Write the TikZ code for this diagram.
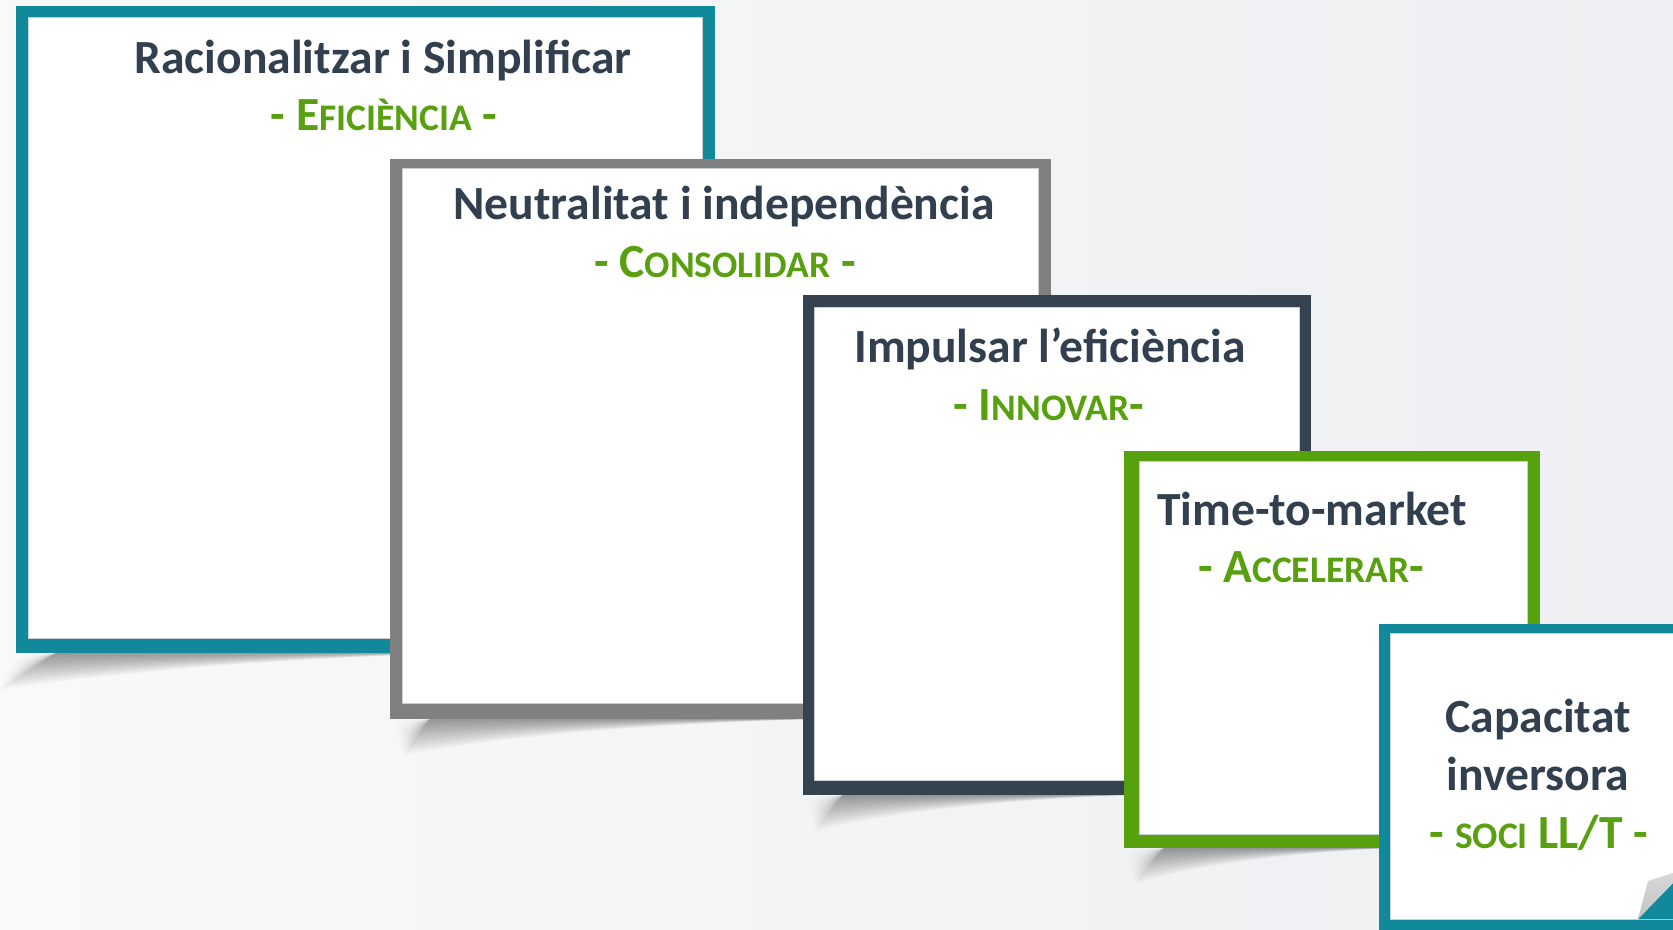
\documentclass[tikz,border=0pt]{standalone}
\usepackage{fontspec}
\setmainfont{Carlito}
\definecolor{titlecol}{HTML}{323F4E}
\definecolor{subgreen}{HTML}{58A00F}
\definecolor{tealcol}{HTML}{12899A}
\definecolor{graycol}{HTML}{808080}
\definecolor{darkcol}{HTML}{34434F}
\definecolor{greencol}{HTML}{57A00E}
\definecolor{bgleft}{HTML}{F9F9F9}
\definecolor{bgright}{HTML}{EDEFF2}
\definecolor{innerline}{HTML}{C9D0D5}
\definecolor{foldtop}{HTML}{D8D8D8}
\definecolor{foldbot}{HTML}{C4C4C4}
\newcommand\smc[1]{{\fontsize{37.5}{44}\selectfont #1}}
% #1 left, #2 bottom, #3 width, #4 tip x offset
\newcommand\pshadow[4]{%
  \foreach \f in {0.0625,0.125,...,1}{%
    \fill[black,opacity=0.028] (#1+40,#2) -- (#1+#4*\f,#2+36*\f)
      .. controls (#1+0.15*#3,#2+20*\f) and (#1+0.35*#3,#2+6*\f) .. (#1+0.64*#3,#2) -- cycle;
  }%
}
\begin{document}
\begin{tikzpicture}[x=1pt,y=-1pt,
  title/.style={anchor=base,inner sep=0pt,text=titlecol,font=\fontsize{47.6}{56}\selectfont\bfseries},
  subtitle/.style={anchor=base,inner sep=0pt,text=subgreen,font=\fontsize{47.6}{56}\selectfont\bfseries},
  inner/.style={fill=white,draw=innerline,line width=1pt}]
\useasboundingbox (0,0) rectangle (1673,929);
\begin{scope}
\clip (0,0) rectangle (1673,929);
\shade[left color=bgleft,right color=bgright] (0,0) rectangle (1673,929);
% box 1
\pshadow{16}{653}{699}{-16}
\fill[tealcol] (16,6) rectangle (715,653);
\path[inner] (28,17) rectangle (702,638);
% box 2
\pshadow{390}{719}{661}{14}
\fill[graycol] (390,159) rectangle (1051,719);
\path[inner] (402,168) rectangle (1038,703);
% box 3
\pshadow{803}{795}{508}{12}
\fill[darkcol] (803,295) rectangle (1311,795);
\path[inner] (814,307) rectangle (1299,780);
% box 4
\pshadow{1124}{848}{416}{10}
\fill[greencol] (1124,451) rectangle (1540,848);
\path[inner] (1139,461) rectangle (1527,834);
% box 5
\fill[tealcol] (1379,624) rectangle (1700,950);
\path[inner] (1390,633) rectangle (1690,919);
% folded corner
\fill[tealcol] (1638,919) -- (1673,883) -- (1673,919) -- cycle;
\shade[top color=foldtop,bottom color=foldbot] (1638,919) -- (1648,881) -- (1673,873) -- (1673,883) -- cycle;
\end{scope}
% texts
\node[title] (t1) at (383,73) {Racionalitzar i Simplificar};
\node[subtitle] (s1) at (384,130) {- E\smc{FICIÈNCIA} -};
\node[title] (t2) at (724,219) {Neutralitat i independència};
\node[subtitle] (s2) at (725,277) {- C\smc{ONSOLIDAR} -};
\node[title] (t3) at (1050,362) {Impulsar l’eficiència};
\node[subtitle] (s3) at (1049,420) {- I\smc{NNOVAR}-};
\node[title] (t4) at (1312,525) {Time-to-market};
\node[subtitle] (s4) at (1311,582) {- A\smc{CCELERAR}-};
\node[title] (t5a) at (1538,732) {Capacitat};
\node[title] (t5b) at (1538,790) {inversora};
\node[subtitle] (s5) at (1539,848) {- \smc{SOCI} LL/T -};
\end{tikzpicture}
\end{document}
